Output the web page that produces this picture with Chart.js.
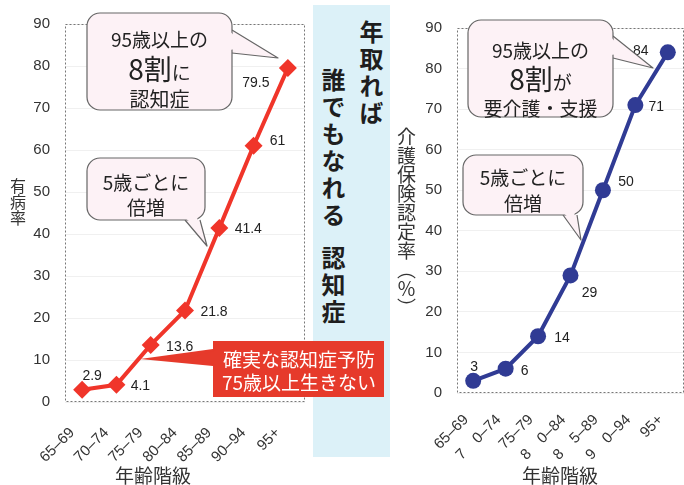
<!DOCTYPE html>
<html lang="ja">
<head>
<meta charset="utf-8">
<script src="https://cdn.jsdelivr.net/npm/chart.js@4.4.1/dist/chart.umd.min.js"></script>
<style>
  body { margin: 0; background: #fff; }
  #wrap { position: relative; width: 684px; height: 485px; overflow: hidden; font-family: "Noto Sans CJK JP", sans-serif; color: #222; }
  .abs { position: absolute; }
  #band { left: 313px; top: 5px; width: 77px; height: 452px; background: #dcf1f8; z-index: 0; }
  .vt { position: absolute; writing-mode: vertical-rl; text-orientation: mixed; white-space: nowrap; line-height: 1; }
  .brush { font-size: 24px; font-weight: 700; letter-spacing: 3px; color: #1e1e1e; z-index: 1; }
  canvas { position: absolute; top: 0; z-index: 2; }
  .ln { position: absolute; text-align: center; white-space: nowrap; z-index: 3; line-height: 1; }
  .big { font-size: 28px; }
  .xt { position: absolute; top: 465px; font-size: 19px; line-height: 20px; z-index: 3; color: #333; }
</style>
</head>
<body>
<div id="wrap">
  <div id="band" class="abs"></div>
  <div class="vt brush" style="left:359px;top:20px;">年取れば</div>
  <div class="vt brush" style="left:321px;top:68px;">誰でもなれる</div>
  <div class="vt brush" style="left:321px;top:246px;">認知症</div>

  <canvas id="leftChart" width="395" height="485" style="left:0;width:395px;height:485px;"></canvas>
  <canvas id="rightChart" width="289" height="485" style="left:395px;width:289px;height:485px;"></canvas>

  <div class="vt" style="left:10px;top:178px;font-size:16px;z-index:3;color:#333;">有病率</div>
  <div class="vt" style="left:397px;top:127px;font-size:19px;z-index:3;color:#333;">介護保険認定率（％）</div>
  <div class="xt" style="left:115px;">年齢階級</div>
  <div class="xt" style="left:522px;">年齢階級</div>

  <!-- 左の吹き出し -->
  <div class="ln" style="left:87px;width:145px;top:29px;font-size:19px;">95歳以上の</div>
  <div class="ln" style="left:87px;width:145px;top:54px;font-size:19px;"><span class="big">8割</span>に</div>
  <div class="ln" style="left:87px;width:145px;top:89px;font-size:20px;">認知症</div>
  <div class="ln" style="left:87px;width:118px;top:172px;font-size:19px;">5歳ごとに</div>
  <div class="ln" style="left:87px;width:118px;top:197px;font-size:19px;">倍増</div>
  <div class="ln" style="left:213px;width:172px;top:349px;font-size:19px;color:#fff;">確実な認知症予防</div>
  <div class="ln" style="left:213px;width:172px;top:372px;font-size:19px;color:#fff;">75歳以上生きない</div>

  <!-- 右の吹き出し -->
  <div class="ln" style="left:468px;width:145px;top:40px;font-size:19px;">95歳以上の</div>
  <div class="ln" style="left:468px;width:145px;top:64px;font-size:19px;"><span class="big">8割</span>が</div>
  <div class="ln" style="left:468px;width:145px;top:98px;font-size:19px;">要介護・支援</div>
  <div class="ln" style="left:463px;width:120px;top:167px;font-size:19px;">5歳ごとに</div>
  <div class="ln" style="left:463px;width:120px;top:193px;font-size:19px;">倍増</div>
</div>

<script>
// 年齢階級
const ageGroups = ["65–69", "70–74", "75–79", "80–84", "85–89", "90–94", "95+"];
// 右グラフの目盛りラベル（元の図の崩れた表記のまま）
const careTickLabels = ["65–69", "7\u30000–74", "75–79", "8\u30000–84", "8\u30005–89", "9\u30000–94", "95+"];
// 認知症の有病率 (%)
const dementiaRate = [2.9, 4.1, 13.6, 21.8, 41.4, 61, 79.5];
// 介護保険認定率 (%)
const careRate = [3, 6, 14, 29, 50, 71, 84];
// 縦軸の目盛り
const yMin = 0;
const yMax = 90;
const yStep = 10;

// 数値ラベルの位置ずらし (点からのdx, dy)
const leftLabelShift = [[10, -14], [24, 1], [29, 2], [29, 2], [29, 1], [24, -5], [-32, 15]];
const rightLabelShift = [[1, -14], [19, 2], [24, 2], [19, 18], [23, -8], [21, 2], [-27, -1]];

Chart.defaults.font.family = "'Liberation Sans', 'Noto Sans CJK JP', sans-serif";
Chart.defaults.color = "#333";

// 点線の枠
const framePlugin = {
  id: "frame",
  beforeDatasetsDraw(chart) {
    const { ctx, chartArea: a } = chart;
    ctx.save();
    ctx.strokeStyle = "#777";
    ctx.lineWidth = 1;
    ctx.setLineDash([2, 2]);
    ctx.strokeRect(a.left + 0.5, a.top + 0.5, a.width - 1, a.height - 1);
    ctx.restore();
  },
};

// 点の横に数値を表示
function valueLabels(shift) {
  return {
    id: "valueLabels",
    afterDatasetsDraw(chart) {
      const { ctx } = chart;
      const meta = chart.getDatasetMeta(0);
      const data = chart.data.datasets[0].data;
      ctx.save();
      ctx.font = "14px 'Liberation Sans', sans-serif";
      ctx.fillStyle = "#222";
      ctx.textAlign = "center";
      ctx.textBaseline = "middle";
      meta.data.forEach((pt, i) => {
        ctx.fillText(String(data[i]), pt.x + shift[i][0], pt.y + shift[i][1]);
      });
      ctx.restore();
    },
  };
}

// 吹き出しの形
function drawCallout(ctx, b) {
  const [p, q, tip] = b.tail;
  ctx.save();
  ctx.fillStyle = b.fill;
  ctx.strokeStyle = b.stroke || b.fill;
  ctx.lineWidth = 1.2;
  ctx.lineJoin = "round";
  ctx.beginPath();
  ctx.moveTo(p[0], p[1]);
  ctx.lineTo(tip[0], tip[1]);
  ctx.lineTo(q[0], q[1]);
  ctx.closePath();
  ctx.fill();
  if (b.stroke) {
    ctx.beginPath();
    ctx.moveTo(p[0], p[1]);
    ctx.lineTo(tip[0], tip[1]);
    ctx.lineTo(q[0], q[1]);
    ctx.stroke();
  }
  ctx.beginPath();
  ctx.roundRect(b.x, b.y, b.w, b.h, b.r);
  ctx.fill();
  if (b.stroke) ctx.stroke();
  // つなぎ目の線を消す
  const mx = (p[0] + q[0]) / 2, my = (p[1] + q[1]) / 2;
  let dx = mx - tip[0], dy = my - tip[1];
  const len = Math.hypot(dx, dy);
  dx /= len; dy /= len;
  const s = (pt) => [pt[0] + (mx - pt[0]) * 0.15 + dx * 3, pt[1] + (my - pt[1]) * 0.15 + dy * 3];
  const a = s(p), c = s(q);
  ctx.beginPath();
  ctx.moveTo(a[0], a[1]);
  ctx.lineTo(mx + (tip[0] - mx) * 0.3, my + (tip[1] - my) * 0.3);
  ctx.lineTo(c[0], c[1]);
  ctx.closePath();
  ctx.fill();
  ctx.restore();
}

function callouts(list) {
  return {
    id: "callouts",
    afterDatasetsDraw(chart) {
      list.forEach((b) => drawCallout(chart.ctx, b));
    },
  };
}

function makeOptions(yWidth, xHeight, padding, tickPad, tickShift) {
  return {
    responsive: false,
    animation: false,
    layout: { padding: padding, autoPadding: false },
    plugins: { legend: { display: false }, tooltip: { enabled: false } },
    scales: {
      x: {
        offset: true,
        grid: { display: false },
        border: { display: false },
        ticks: {
          autoSkip: false, minRotation: 45, maxRotation: 45,
          padding: tickPad, labelOffset: tickShift,
          font: { size: 15 }, color: "#333",
        },
        afterFit(scale) {
          scale.height = xHeight;
          // 回転ラベル用の余白は使わない
          scale.paddingLeft = 0;
          scale.paddingRight = 0;
        },
      },
      y: {
        min: yMin,
        max: yMax,
        grid: { color: "rgba(0,0,0,0.06)", drawTicks: false },
        border: { display: false },
        ticks: { stepSize: yStep, padding: 15, font: { size: 15 }, color: "#333" },
        afterFit(scale) { scale.width = yWidth; },
      },
    },
  };
}

const bubbleFill = "#fdf2f6";
const bubbleLine = "#666";

// 左：認知症の有病率
new Chart(document.getElementById("leftChart"), {
  type: "line",
  data: {
    labels: ageGroups,
    datasets: [{
      data: dementiaRate,
      borderColor: "#f0352a",
      backgroundColor: "#f0352a",
      borderWidth: 4,
      pointStyle: "rectRot",
      pointRadius: 9,
      pointBorderWidth: 0,
      tension: 0,
    }],
  },
  options: makeOptions(65, 83, { top: 21, right: 90, bottom: 0, left: 0 }, 14, -10),
  plugins: [
    framePlugin,
    valueLabels(leftLabelShift),
    callouts([
      { x: 87, y: 13, w: 145, h: 97, r: 13, fill: bubbleFill, stroke: bubbleLine, tail: [[232, 30], [232, 53], [278, 58]] },
      { x: 87, y: 158, w: 118, h: 62, r: 13, fill: bubbleFill, stroke: bubbleLine, tail: [[185, 220], [200, 220], [207, 246]] },
      { x: 213, y: 341, w: 171, h: 56, r: 0, fill: "#e63a2b", stroke: null, tail: [[213, 349], [213, 366], [140, 359]] },
    ]),
  ],
});

// 右：介護保険認定率
new Chart(document.getElementById("rightChart"), {
  type: "line",
  data: {
    labels: careTickLabels,
    datasets: [{
      data: careRate,
      borderColor: "#303b94",
      backgroundColor: "#303b94",
      borderWidth: 4,
      pointStyle: "circle",
      pointRadius: 8,
      pointBorderWidth: 0,
      tension: 0,
    }],
  },
  options: makeOptions(62, 92, { top: 28, right: 0, bottom: 0, left: 0 }, 10, -7),
  plugins: [
    framePlugin,
    valueLabels(rightLabelShift),
    callouts([
      { x: 73, y: 20, w: 145, h: 97, r: 13, fill: bubbleFill, stroke: bubbleLine, tail: [[218, 36], [218, 58], [258, 68]] },
      { x: 68, y: 155, w: 120, h: 60, r: 13, fill: bubbleFill, stroke: bubbleLine, tail: [[168, 215], [182, 215], [186, 240]] },
    ]),
  ],
});
</script>
</body>
</html>
